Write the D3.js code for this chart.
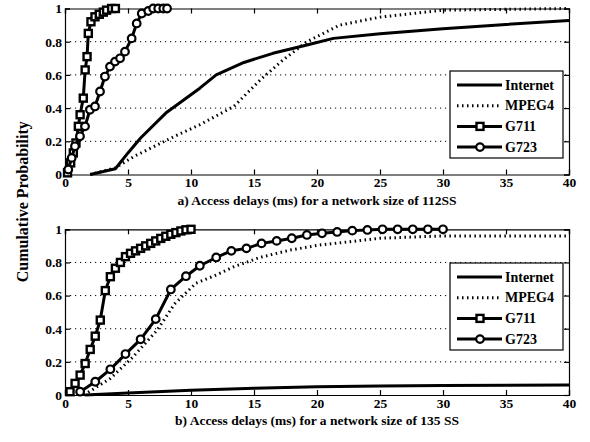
<!DOCTYPE html>
<html>
<head>
<meta charset="utf-8">
<script src="https://cdn.jsdelivr.net/npm/d3@7"></script>
<style>
  body { margin: 0; background: #fff; }
  svg text { font-family: "Liberation Serif", "Times New Roman", Times, serif; font-weight: bold; fill: #000; }
</style>
</head>
<body>
<svg id="chart" width="590" height="442"></svg>
<script>
// ---- data ----
var xTicks = [0, 5, 10, 15, 20, 25, 30, 35, 40];
var yTicks = [0, 0.2, 0.4, 0.6, 0.8, 1];
var yTickLabels = ["0", "0.2", "0.4", "0.6", "0.8", "1"];
var seriesNames = ["Internet", "MPEG4", "G711", "G723"];
var titles = ["a) Access delays (ms) for a network size of 112SS",
              "b) Access delays (ms) for a network size of 135 SS"];
var yLabel = "Cumulative Probability";

// panel a (112 SS)
var internetA = [[2,0],[4,0.035],[5,0.13],[6,0.22],[8,0.37],[10.7,0.52],[12,0.6],[14.2,0.675],[16.5,0.73],[19.2,0.78],[21.3,0.82],[25,0.848],[30,0.878],[35,0.904],[40,0.928]];
var mpeg4A = [[2,0],[4,0.04],[5.5,0.11],[8.7,0.23],[10.7,0.3],[13.4,0.41],[15.5,0.57],[17.3,0.69],[19.2,0.8],[21.8,0.9],[25,0.948],[30,0.99],[40,1.0]];
var g711A = [[0.2,0.01],[0.45,0.07],[0.66,0.13],[0.87,0.19],[1.06,0.29],[1.2,0.36],[1.45,0.46],[1.6,0.63],[1.75,0.71],[1.85,0.85],[2.06,0.92],[2.38,0.95],[2.72,0.965],[3.04,0.978],[3.3,0.99],[3.7,1.0],[4.0,1.0]];
var g723A = [[0.26,0.03],[0.53,0.1],[0.79,0.17],[1.19,0.23],[1.59,0.29],[1.98,0.39],[2.38,0.41],[2.78,0.5],[3.17,0.59],[3.57,0.65],[3.97,0.68],[4.37,0.7],[4.76,0.74],[5.29,0.82],[5.69,0.91],[6.09,0.97],[6.61,0.985],[7.0,1],[7.4,1],[7.8,1],[8.1,1]];

// panel b (135 SS)
var internetB = [[1.6,0],[5,0.012],[10,0.028],[15,0.04],[20,0.05],[25,0.055],[30,0.058],[40,0.06]];
var mpeg4B = [[1.5,0],[3.6,0.1],[5.4,0.23],[7.3,0.39],[8.7,0.55],[10.4,0.675],[12,0.724],[13.4,0.774],[15.5,0.831],[17.9,0.875],[20.2,0.905],[22.6,0.925],[25,0.946],[30,0.96],[40,0.96]];
var g711B = [[0.4,0.02],[0.8,0.07],[1.2,0.12],[1.6,0.19],[2.0,0.275],[2.4,0.355],[2.8,0.452],[3.2,0.63],[3.6,0.714],[4.0,0.765],[4.4,0.8],[4.8,0.835],[5.2,0.855],[5.6,0.87],[6.0,0.885],[6.4,0.9],[6.8,0.915],[7.2,0.93],[7.6,0.945],[8.0,0.958],[8.4,0.97],[8.8,0.98],[9.2,0.99],[9.6,0.997],[10.0,1.0]];
var g723B = [[1.2,0.02],[2.4,0.08],[3.6,0.155],[4.8,0.247],[6.0,0.336],[7.2,0.458],[8.4,0.637],[9.6,0.717],[10.7,0.78],[12.0,0.83],[13.2,0.87],[14.4,0.885],[15.6,0.915],[16.8,0.93],[18.0,0.946],[19.2,0.966],[20.4,0.976],[21.6,0.984],[22.8,0.992],[24.0,0.996],[25.2,1],[26.4,1],[27.6,1],[28.8,1],[30.0,1]];

var panelsData = [[internetA, mpeg4A, g711A, g723A], [internetB, mpeg4B, g711B, g723B]];

// ---- layout ----
var FONT = "'Liberation Serif', 'Times New Roman', Times, serif";
var svg = d3.select("#chart");
var left = 65, right = 569;
var panels = [
    {top: 8.5, bottom: 174.5, legendTop: 71},
    {top: 229.3, bottom: 395, legendTop: 263}
];

var x = d3.scaleLinear().domain([0, 40]).range([left, right]);

function drawMarker(g, type, cx, cy){
    if(type == "G711"){
        g.append("rect")
            .attr("x", cx-3.5).attr("y", cy-3.5)
            .attr("width", 7).attr("height", 7)
            .attr("fill", "#fff").attr("stroke", "#000").attr("stroke-width", 2.4);
    } else if(type == "G723"){
        g.append("circle")
            .attr("cx", cx).attr("cy", cy).attr("r", 3.8)
            .attr("fill", "#fff").attr("stroke", "#000").attr("stroke-width", 2.2);
    }
}

function lineStyle(sel, name){
    sel.attr("fill", "none")
        .attr("stroke", "#000")
        .attr("stroke-width", 3)
        .attr("stroke-linejoin", "round");
    if(name == "MPEG4") sel.attr("stroke-dasharray", "1.5,3.5");
}

panels.forEach(function(p, pi){
    var y = d3.scaleLinear().domain([0, 1]).range([p.bottom, p.top]);
    var g = svg.append("g");

    // dotted grid
    g.selectAll(".grid").data(yTicks.slice(1, -1)).enter().append("line")
        .attr("x1", left).attr("x2", right)
        .attr("y1", function(d){ return y(d); })
        .attr("y2", function(d){ return y(d); })
        .attr("stroke", "#000").attr("stroke-width", 1)
        .attr("stroke-dasharray", "1.2,3.8");

    // axes, ticks inward
    g.append("g").attr("transform", "translate(0," + p.bottom + ")")
        .call(d3.axisBottom(x).tickValues(xTicks).tickSize(-5).tickPadding(3).tickFormat(d3.format("d")));
    g.append("g").attr("transform", "translate(0," + p.top + ")")
        .call(d3.axisTop(x).tickValues(xTicks).tickSize(-5).tickFormat(""));
    g.append("g").attr("transform", "translate(" + left + ",0)")
        .call(d3.axisLeft(y).tickValues(yTicks).tickSize(-5).tickPadding(3)
            .tickFormat(function(d, i){ return yTickLabels[i]; }));
    g.append("g").attr("transform", "translate(" + right + ",0)")
        .call(d3.axisRight(y).tickValues(yTicks).tickSize(-5).tickFormat(""));

    g.selectAll("g").attr("font-family", FONT);
    g.selectAll(".domain").attr("stroke", "#000").attr("stroke-width", 1.2);
    g.selectAll(".tick line").attr("stroke", "#000").attr("stroke-width", 1.2);
    g.selectAll(".tick text")
        .style("font-family", FONT)
        .style("font-weight", "bold")
        .style("font-size", "13.5px")
        .attr("fill", "#000");

    // curves
    var line = d3.line().x(function(d){ return x(d[0]); }).y(function(d){ return y(d[1]); });
    panelsData[pi].forEach(function(series, si){
        var name = seriesNames[si];
        g.append("path").datum(series).attr("d", line).call(lineStyle, name);
        if(name == "G711" || name == "G723"){
            series.forEach(function(d){ drawMarker(g, name, x(d[0]), y(d[1])); });
        }
    });

    // caption
    g.append("text")
        .attr("x", (left + right) / 2)
        .attr("y", p.bottom + 30)
        .style("text-anchor", "middle")
        .style("font-family", FONT)
        .style("font-size", "13.5px")
        .text(titles[pi]);

    // legend
    var lx = 450, lw = 113, lh = 87;
    var lg = g.append("g");
    lg.append("rect")
        .attr("x", lx).attr("y", p.legendTop)
        .attr("width", lw).attr("height", lh)
        .attr("fill", "#fff").attr("stroke", "#000").attr("stroke-width", 1.2);
    seriesNames.forEach(function(name, i){
        var ry = p.legendTop + 14 + i * 20.7;
        lg.append("line")
            .attr("x1", lx + 7).attr("x2", lx + 52)
            .attr("y1", ry).attr("y2", ry)
            .call(lineStyle, name);
        drawMarker(lg, name, lx + 30, ry);
        lg.append("text")
            .attr("x", lx + 55)
            .attr("y", ry + 4.5)
            .style("font-family", FONT)
            .style("font-size", "14px")
            .text(name);
    });
});

// shared y label
svg.append("text")
    .attr("transform", "translate(22," + ((panels[0].top + panels[1].bottom) / 2) + ") rotate(-90)")
    .attr("dy", "0.35em")
    .style("text-anchor", "middle")
    .style("font-family", FONT)
    .style("font-size", "16px")
    .text(yLabel);
</script>
</body>
</html>
